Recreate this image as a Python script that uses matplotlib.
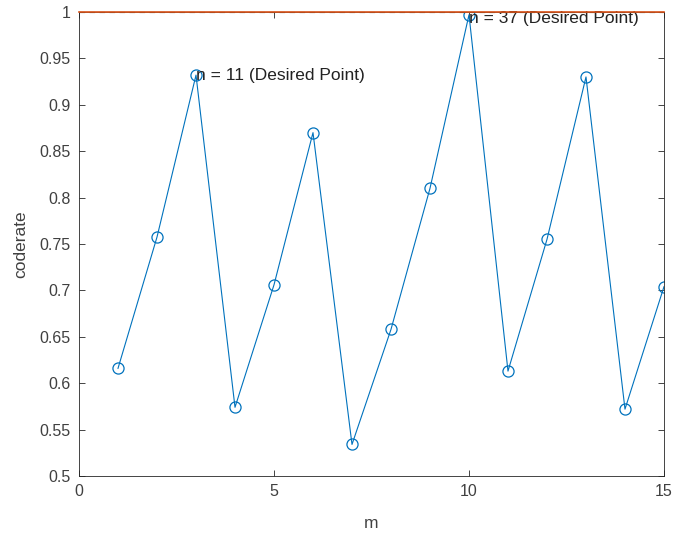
import matplotlib
matplotlib.use('Agg')
import matplotlib.pyplot as plt
import numpy as np

plt.rcParams['font.family'] = ['Liberation Sans', 'DejaVu Sans']

m = np.arange(1, 16)
coderate = [0.616, 0.7575, 0.932, 0.574, 0.706, 0.870, 0.534, 0.658,
            0.810, 0.997, 0.613, 0.755, 0.930, 0.572, 0.704]
target = 1.0
notes = [(3, 0.932, 'n = 11 (Desired Point)'),
         (10, 0.993, 'n = 37 (Desired Point)')]

fig = plt.figure(figsize=(6.73, 5.35), dpi=100)
ax = fig.add_axes([0.1174, 0.1103, 0.8692, 0.8673])

ax.plot(m, coderate, '-o', color='#0072BD', lw=0.8, ms=8, mfc='none', mew=0.9)
ax.axhline(target, color='black', ls=(0, (5, 4)), lw=0.8, clip_on=False)
ax.axhline(target, color='#D95319', lw=1.2, clip_on=False, zorder=5)

for x, y, s in notes:
    ax.text(x, y, s, ha='left', va='center', fontsize=12.5, color='#222222')

ax.set_xlim(0, 15)
ax.set_ylim(0.5, 1)
ax.set_xticks([0, 5, 10, 15])
ax.set_yticks(np.arange(0.5, 1.001, 0.05))
ax.set_yticklabels(['0.5', '0.55', '0.6', '0.65', '0.7', '0.75', '0.8',
                    '0.85', '0.9', '0.95', '1'])
ax.tick_params(direction='in', top=True, right=True, length=4, width=0.6,
               labelsize=11.5, colors='#262626', labelcolor='#404040', pad=6)
for sp in ax.spines.values():
    sp.set_linewidth(0.6)
    sp.set_color('#262626')

ax.set_xlabel('m', fontsize=12.5, color='#404040', labelpad=12)
ax.set_ylabel('coderate', fontsize=12.5, color='#404040', labelpad=8)

fig.savefig('out.png', dpi=100)
